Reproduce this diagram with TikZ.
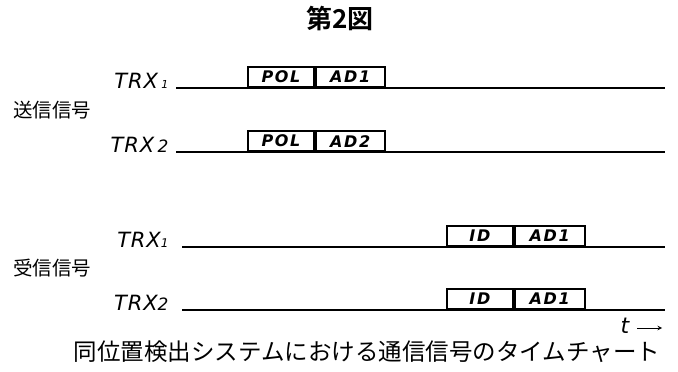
\documentclass[tikz,border=0pt]{standalone}
\usepackage{fontspec}
\setmainfont{DejaVu Sans}
\newfontfamily\jp{Noto Sans CJK JP}
\newfontfamily\jpb{Noto Sans CJK JP Bold}
\begin{document}
\begin{tikzpicture}[x=1pt,y=-1pt,
  sig/.style={line width=1.8pt},
  pkt/.style={draw,line width=1.8pt,minimum height=20pt,inner sep=0pt,anchor=south west,font=\fontsize{16}{16}\selectfont\bfseries\itshape\addfontfeature{LetterSpace=10}},
  trx/.style={anchor=base east,font=\fontsize{21}{21}\selectfont\itshape\addfontfeature{LetterSpace=4}},
  grp/.style={anchor=center,font=\jp\fontsize{19.5}{19.5}\selectfont}]
\useasboundingbox (0,0) rectangle (678,372);
\node[font=\jpb\fontsize{26}{26}\selectfont] (title) at (340,19) {第2図};
% row 1
\node[trx] (l1) at (172,88) {TRX\,{\fontsize{11}{11}\selectfont 1}};
\coordinate (a1) at (176,88); \coordinate (b1) at (665,88);
\draw[sig] (a1) -- (b1);
\node[pkt,minimum width=66pt] (p1) at (247,88) {POL};
\node[pkt,minimum width=69pt] (d1) at (p1.south east) {AD1};
% row 2
\node[trx] (l2) at (172,152) {TRX\,{\fontsize{17}{17}\selectfont 2}};
\coordinate (a2) at (176,152); \coordinate (b2) at (665,152);
\draw[sig] (a2) -- (b2);
\node[pkt,minimum width=66pt] (p2) at (247,152) {POL};
\node[pkt,minimum width=69pt] (d2) at (p2.south east) {AD2};
\node[grp] (s) at (52,110) {送信信号};
% row 3
\node[trx] (l3) at (172,247) {TRX{\fontsize{12}{12}\selectfont 1}};
\coordinate (a3) at (182,247); \coordinate (b3) at (665,247);
\draw[sig] (a3) -- (b3);
\node[pkt,minimum width=66pt] (i3) at (446,247) {ID};
\node[pkt,minimum width=70pt] (d3) at (i3.south east) {AD1};
% row 4
\node[trx] (l4) at (172,310) {TRX{\fontsize{17}{17}\selectfont 2}};
\coordinate (a4) at (182,310); \coordinate (b4) at (665,310);
\draw[sig] (a4) -- (b4);
\node[pkt,minimum width=66pt] (i4) at (446,310) {ID};
\node[pkt,minimum width=70pt] (d4) at (i4.south east) {AD1};
\node[grp] (r) at (52,268) {受信信号};
% time
\node[font=\fontsize{22}{22}\selectfont\itshape] (t) at (625,326) {t};
\coordinate (ta) at (637,328); \coordinate (tb) at (662,328);
\draw[line width=1pt,-stealth] (ta) -- (tb);
\node[font=\jp\fontsize{23.5}{23.5}\selectfont] (cap) at (367,352) {同位置検出システムにおける通信信号のタイムチャート};
\end{tikzpicture}
\end{document}
